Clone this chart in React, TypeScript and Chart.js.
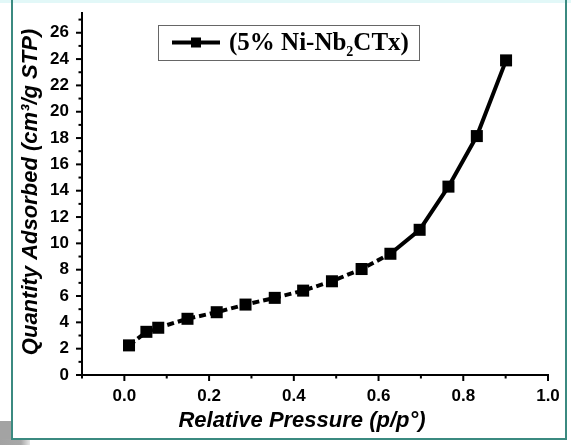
import React, { useEffect, useRef } from "react";
import { Chart, registerables } from "chart.js";

Chart.register(...registerables);

const seriesLabel = "(5% Ni-Nb";
const seriesLabelSub = "2";
const seriesLabelTail = "CTx)";
const xTitle = "Relative Pressure (p/p°)";
const yTitle = "Quantity Adsorbed (cm³/g STP)";

const pressure = [0.011, 0.052, 0.08, 0.149, 0.218, 0.286, 0.355, 0.422, 0.49, 0.56, 0.628, 0.697, 0.765, 0.832, 0.901];
const adsorbed = [2.25, 3.28, 3.59, 4.27, 4.77, 5.35, 5.86, 6.41, 7.12, 8.05, 9.21, 11.03, 14.31, 18.15, 23.9];

const xMin = -0.1;
const xMax = 1.0;
const yMin = 0;
const yMax = 27.5;

const TICK_FONT = { family: "'Liberation Sans', Arial, sans-serif", size: 17, weight: "bold" as const };

const decorPlugin = {
  id: "decor",
  beforeDraw(chart: any) {
    const ctx = chart.ctx;
    const W = chart.width;
    const H = chart.height;
    ctx.save();
    ctx.fillStyle = "#ffffff";
    ctx.fillRect(0, 0, W, H);
    ctx.fillStyle = "#e2f8f8";
    ctx.fillRect(0, 0, W, 3);
    ctx.fillStyle = "#a3a3a3";
    ctx.fillRect(0, 421, 12, H - 421);
    const g = ctx.createLinearGradient(0, 0, 30, 0);
    g.addColorStop(0, "#a3a3a3");
    g.addColorStop(0.7, "#a8a8a8");
    g.addColorStop(1, "#e8e8e8");
    ctx.fillStyle = g;
    ctx.fillRect(0, 439, 30, H - 439);
    ctx.strokeStyle = "#3b8a80";
    ctx.lineWidth = 2;
    ctx.beginPath();
    ctx.moveTo(12, 0);
    ctx.lineTo(12, 439);
    ctx.lineTo(566, 439);
    ctx.lineTo(566, 0);
    ctx.stroke();
    ctx.restore();
  },
  afterDraw(chart: any) {
    const ctx = chart.ctx;
    const xs = chart.scales.x;
    const ys = chart.scales.y;
    const area = chart.chartArea;
    ctx.save();
    ctx.strokeStyle = "#000";
    ctx.lineWidth = 2;
    xs.ticks.forEach((t: any) => {
      const px = xs.getPixelForValue(t.value);
      const major = Math.round(t.value * 10) % 2 === 0;
      const len = major ? 6 : 3.5;
      ctx.beginPath();
      ctx.moveTo(px, area.bottom);
      ctx.lineTo(px, area.bottom + len);
      ctx.stroke();
    });
    ys.ticks.forEach((t: any) => {
      const py = ys.getPixelForValue(t.value);
      const major = Math.round(t.value) % 2 === 0;
      const len = major ? 6 : 3.5;
      ctx.beginPath();
      ctx.moveTo(area.left, py);
      ctx.lineTo(area.left - len, py);
      ctx.stroke();
    });
    ctx.fillStyle = "#000";
    ctx.font = "italic bold 22px 'Liberation Sans', Arial, sans-serif";
    ctx.textAlign = "center";
    ctx.textBaseline = "middle";
    ctx.fillText(xTitle, 302, 421);
    ctx.save();
    ctx.translate(31, 192);
    ctx.rotate(-Math.PI / 2);
    ctx.fillText(yTitle, 0, 0);
    ctx.restore();
    // legend
    ctx.strokeStyle = "#666";
    ctx.lineWidth = 1;
    ctx.strokeRect(158.5, 25.5, 261, 35);
    ctx.strokeStyle = "#000";
    ctx.lineWidth = 4;
    ctx.beginPath();
    ctx.moveTo(172, 42.5);
    ctx.lineTo(220, 42.5);
    ctx.stroke();
    ctx.fillStyle = "#000";
    ctx.fillRect(191, 37.5, 10, 10);
    ctx.textAlign = "left";
    ctx.textBaseline = "alphabetic";
    ctx.font = "bold 25px 'Liberation Serif', 'Times New Roman', serif";
    let x = 229;
    ctx.fillText(seriesLabel, x, 50);
    x += ctx.measureText(seriesLabel).width;
    ctx.font = "bold 14px 'Liberation Serif', 'Times New Roman', serif";
    ctx.fillText(seriesLabelSub, x, 56);
    x += ctx.measureText(seriesLabelSub).width;
    ctx.font = "bold 25px 'Liberation Serif', 'Times New Roman', serif";
    ctx.fillText(seriesLabelTail, x, 50);
    ctx.restore();
  },
};

export default function App() {
  const ref = useRef<HTMLCanvasElement | null>(null);
  useEffect(() => {
    if (!ref.current) return;
    const chart = new Chart(ref.current, {
      type: "line",
      data: {
        datasets: [
          {
            label: seriesLabel + seriesLabelSub + seriesLabelTail,
            data: pressure.map((p, i) => ({ x: p, y: adsorbed[i] })),
            borderColor: "#000",
            backgroundColor: "#000",
            borderWidth: 4,
            pointStyle: "rect",
            pointRadius: 8.5,
            pointHoverRadius: 8.5,
            pointBorderWidth: 0,
            tension: 0,
            segment: {
              borderDash: (c: any) => (c.p1.parsed.x <= 0.64 ? [7, 4] : undefined),
            },
          },
        ],
      },
      options: {
        responsive: false,
        animation: false,
        devicePixelRatio: 1,
        layout: { padding: { left: 0, top: 13, right: 23, bottom: 0 } },
        plugins: { legend: { display: false }, tooltip: { enabled: false } },
        scales: {
          x: {
            type: "linear",
            min: xMin,
            max: xMax,
            afterFit: (s: any) => {
              s.height = 70;
              s.paddingLeft = 0;
              s.paddingRight = 0;
            },
            afterBuildTicks: (s: any) => {
              const out = [];
              for (let i = -1; i <= 10; i++) out.push({ value: i / 10 });
              s.ticks = out;
            },
            ticks: {
              font: TICK_FONT,
              color: "#000",
              padding: 11,
              maxRotation: 0,
              autoSkip: false,
              callback: (v: any) => {
                const n = Math.round(Number(v) * 10);
                return n >= 0 && n % 2 === 0 ? (n / 10).toFixed(1) : "";
              },
            },
            grid: { display: false, drawTicks: false },
            border: { display: true, color: "#000", width: 2 },
          },
          y: {
            type: "linear",
            min: yMin,
            max: yMax,
            afterFit: (s: any) => {
              s.width = 82;
              s.paddingTop = 0;
              s.paddingBottom = 0;
            },
            afterBuildTicks: (s: any) => {
              const out = [];
              for (let i = 0; i <= 27; i++) out.push({ value: i });
              s.ticks = out;
            },
            ticks: {
              font: TICK_FONT,
              color: "#000",
              padding: 13,
              autoSkip: false,
              callback: (v: any) => {
                const n = Math.round(Number(v));
                return n % 2 === 0 ? String(n) : "";
              },
            },
            grid: { display: false, drawTicks: false },
            border: { display: true, color: "#000", width: 2 },
          },
        },
      },
      plugins: [decorPlugin],
    });
    return () => chart.destroy();
  }, []);
  return (
    <div style={{ position: "absolute", left: 0, top: 0, width: 571, height: 445 }}>
      <canvas ref={ref} width={571} height={445} style={{ display: "block", width: 571, height: 445 }} />
    </div>
  );
}
